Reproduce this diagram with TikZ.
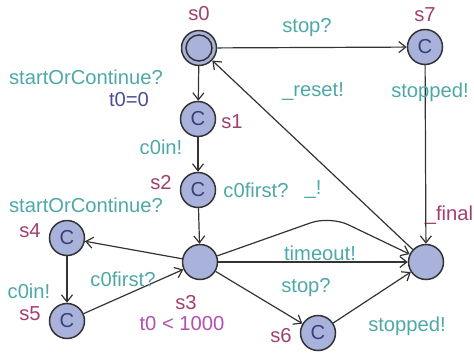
\documentclass[tikz,border=0pt]{standalone}
\usepackage{fontspec}
\setmainfont{Liberation Sans}
\usetikzlibrary{arrows.meta}
\definecolor{locfill}{HTML}{A8B2DA}
\definecolor{locname}{HTML}{A0406E}
\definecolor{synclab}{HTML}{4FA8A8}
\definecolor{updlab}{HTML}{4A4E96}
\definecolor{invlab}{HTML}{B050B0}
\definecolor{edgecol}{HTML}{333333}
\newcommand{\lfont}[0]{\fontsize{10.1}{12}\selectfont}
\tikzset{
 loc/.style={circle,draw=edgecol,line width=0.75pt,fill=locfill,minimum size=17.5pt,inner sep=0pt,font=\lfont,text=updlab!80!black},
 edge/.style={draw=edgecol,line width=0.6pt,-{Straight Barb[length=3.5pt,width=5.5pt]}},
 nm/.style={font=\lfont,text=locname},
 sy/.style={font=\lfont,text=synclab},
 up/.style={font=\lfont,text=updlab},
 iv/.style={font=\lfont,text=invlab}
}

\begin{document}
\begin{tikzpicture}[x=0.5pt,y=-0.5pt]
	\useasboundingbox (0,0) rectangle (474,358);
	% locations
	\node[loc] (s0) at (199,48) {};
	\draw[edgecol,line width=0.75pt] (s0) circle (6.5pt);
	\node[loc] (s7) at (425,47) {C};
	\node[loc] (s1) at (198,119) {C};
	\node[loc] (s2) at (198,190) {C};
	\node[loc] (s3) at (200,262) {};
	\node[loc] (s4) at (67,238) {C};
	\node[loc] (s5) at (67,321) {C};
	\node[loc] (s6) at (318,333) {C};
	\node[loc] (final) at (426,262) {};
	\coordinate (nail) at (330,216);
	% names
	\node[nm] (n0) at (199,14) {s0};
	\node[nm] (n7) at (425,15) {s7};
	\node[nm] (n1) at (232,122) {s1};
	\node[nm] (n2) at (161,183) {s2};
	\node[nm] (n3) at (186,303) {s3};
	\node[iv] (i3) at (182,324) {t0 < 1000};
	\node[nm] (n4) at (30,231) {s4};
	\node[nm] (n5) at (30,314) {s5};
	\node[nm] (n6) at (281,336) {s6};
	\node[nm] (nf) at (449,215) {\_final};
	% transitions
	\draw[edge] (s0) -- (s7);
	\draw[edge] (s0) -- (s1);
	\draw[edge] (s1) -- (s2);
	\draw[edge] (s2) -- (s3);
	\draw[edge] (s3) -- (s4);
	\draw[edge] (s4) -- (s5);
	\draw[edge] (s5) -- (s3);
	\draw[edge] (s3) -- (final);
	\draw[edge,rounded corners=10pt] (s3) -- (nail) -- (final);
	\draw[edge] (s3) -- (s6);
	\draw[edge] (s6) -- (final);
	\draw[edge] (s7) -- (final);
	\draw[edge] (final) -- (s0);
	% labels
	\node[sy] (l07) at (307,28) {stop?};
	\node[sy] (l01) at (86,77) {startOrContinue?};
	\node[up] (u01) at (129,100) {t0=0};
	\node[sy] (l12) at (161,147) {c0in!};
	\node[sy] (l23) at (256,190) {c0first?};
	\node[sy] (l3f) at (313,190) {\_!};
	\node[sy] (l34) at (86,205) {startOrContinue?};
	\node[sy] (l45) at (29,291) {c0in!};
	\node[sy] (l53) at (123,279) {c0first?};
	\node[sy] (t3f) at (320,253) {timeout!};
	\node[sy] (l36) at (306,288) {stop?};
	\node[sy] (l6f) at (407,326) {stopped!};
	\node[sy] (l7f) at (430,92) {stopped!};
	\node[sy] (lf0) at (313,92) {\_reset!};
\end{tikzpicture}
\end{document}
